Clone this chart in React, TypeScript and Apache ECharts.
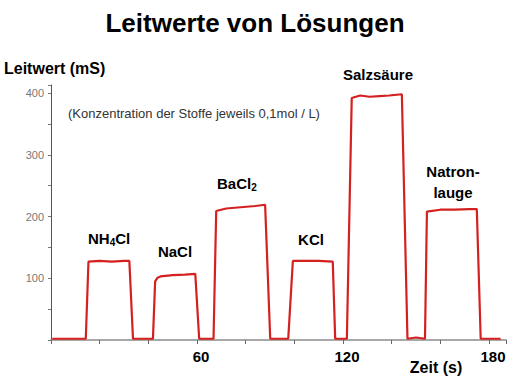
import React, { useEffect, useRef } from "react";
import * as echarts from "echarts";

const timeSeconds = [0.5, 14.3, 15.4, 20, 25, 30, 32.2, 33.7, 41.9, 42.8, 43.8, 45, 50, 55, 59.3, 60.9, 66.8, 67.9, 72, 78, 84, 88, 90.1, 97.5, 99.4, 105, 110, 115.8, 116.8, 121.6, 123.6, 127, 131, 135, 139, 144.2, 146.5, 150, 153.7, 154.5, 160, 166, 172, 175, 176.6, 184.8];
const conductance = [2, 2, 127, 128, 127, 128, 128, 2, 2, 95, 101, 103, 105, 106, 107, 2, 2, 209, 213, 215, 217, 219, 2, 2, 128, 128, 128, 127, 2, 2, 392, 396, 394, 395, 396, 398, 2, 4, 2, 208, 211, 211, 212, 212, 2, 2];
const xLabels = [60, 120, 180];
const yLabels = [100, 200, 300, 400];

const FONT = "'Liberation Sans', Arial, sans-serif";

export default function App() {
  const ref = useRef<HTMLDivElement>(null);
  useEffect(() => {
    const chart = echarts.init(ref.current!, undefined, { renderer: "svg" });
    const data = timeSeconds.map((t, i) => [t, conductance[i]]);
    const bold = (size: number) => ({ fontFamily: FONT, fontWeight: "bold", fontSize: size, fill: "#000" });
    chart.setOption({
      animation: false,
      backgroundColor: "#fff",
      textStyle: { fontFamily: FONT },
      grid: { left: 51, right: 18, top: 85, bottom: 41 },
      xAxis: {
        type: "value",
        min: 0,
        max: 187,
        interval: 20,
        axisLine: { lineStyle: { color: "#8c8c8c", width: 1.5 } },
        axisTick: { show: true, length: 4, lineStyle: { color: "#666" } },
        splitLine: { show: false },
        axisLabel: {
          margin: 9,
          fontSize: 15,
          fontWeight: "bold",
          color: "#000",
          padding: [0, 0, 0, 8],
          formatter: (v: number) => (xLabels.includes(v) ? String(v) : ""),
        },
      },
      yAxis: {
        type: "value",
        min: 0,
        max: 413,
        interval: 100,
        axisLine: { show: true, lineStyle: { color: "#555", width: 1 } },
        axisTick: { show: true, length: 3, lineStyle: { color: "#777" } },
        minorTick: { show: true, splitNumber: 2, length: 3, lineStyle: { color: "#777" } },
        splitLine: { show: false },
        axisLabel: {
          margin: 7,
          fontSize: 11,
          color: "#777",
          formatter: (v: number) => (yLabels.includes(v) ? String(v) : ""),
        },
      },
      series: [
        {
          type: "line",
          data,
          showSymbol: false,
          lineStyle: { color: "#d4211f", width: 2.2 },
        },
      ],
      graphic: [
        { type: "text", x: 255, y: 10, style: { text: "Leitwerte von Lösungen", ...bold(26), textAlign: "center" } },
        { type: "text", x: 4, y: 60, style: { text: "Leitwert (mS)", ...bold(16) } },
        { type: "text", x: 436, y: 359, style: { text: "Zeit (s)", ...bold(16), textAlign: "center" } },
        {
          type: "text",
          x: 68,
          y: 107,
          style: { text: "(Konzentration der Stoffe jeweils 0,1mol / L)", fontFamily: FONT, fontSize: 13, fill: "#333" },
        },
        {
          type: "text",
          x: 88,
          y: 229,
          style: {
            text: "{a|NH}{b|4}{a|Cl}",
            rich: {
              a: { fontFamily: FONT, fontWeight: "bold", fontSize: 15, color: "#000" },
              b: { fontFamily: FONT, fontWeight: "bold", fontSize: 10, color: "#000", padding: [8, 0, 0, 0] },
            },
          },
        },
        { type: "text", x: 175, y: 244, style: { text: "NaCl", ...bold(15), textAlign: "center" } },
        {
          type: "text",
          x: 217,
          y: 174,
          style: {
            text: "{a|BaCl}{b|2}",
            rich: {
              a: { fontFamily: FONT, fontWeight: "bold", fontSize: 15, color: "#000" },
              b: { fontFamily: FONT, fontWeight: "bold", fontSize: 10, color: "#000", padding: [8, 0, 0, 0] },
            },
          },
        },
        { type: "text", x: 311, y: 232, style: { text: "KCl", ...bold(15), textAlign: "center" } },
        { type: "text", x: 378, y: 67, style: { text: "Salzsäure", ...bold(15), textAlign: "center" } },
        { type: "text", x: 453, y: 161, style: { text: "Natron-\nlauge", ...bold(15), textAlign: "center", lineHeight: 21 } },
      ],
    });
    return () => chart.dispose();
  }, []);
  return <div ref={ref} style={{ position: "fixed", left: 0, top: 0, width: 524, height: 381 }} />;
}
